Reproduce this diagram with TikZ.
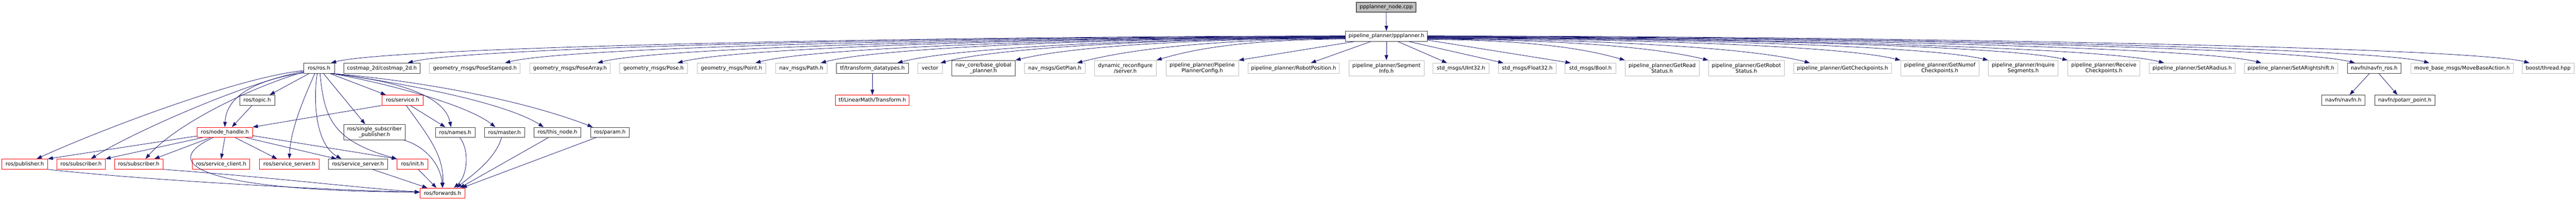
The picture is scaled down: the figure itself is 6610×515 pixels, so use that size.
\documentclass[tikz,border=0pt]{standalone}
\usepackage{fontspec}
\setmainfont{DejaVu Sans}
\usetikzlibrary{arrows.meta}
\definecolor{dep edge}{HTML}{191970}
\definecolor{grey box}{HTML}{BFBFBF}
\tikzset{filebox/.style={draw=black!75, line width=0.8pt, inner sep=0pt, minimum height=19.5pt,
        align=center, font=\fontsize{10}{11.25}\selectfont},
    blackbox/.style={filebox},
    greybox/.style={filebox, draw=grey box},
    redbox/.style={filebox, draw=red},
    rootbox/.style={filebox, draw=black, fill=grey box},
    tallbox/.style={minimum height=30pt},
    boxw/.style={minimum width=#1*0.75pt},
    dep/.style={draw=dep edge, line width=0.8pt, -{Triangle[length=10pt,width=7pt]}}}

\begin{document}
\begin{tikzpicture}[x=0.75pt, y=-0.75pt]
    \useasboundingbox (0,0) rectangle (6610,515);
    \node[rootbox, boxw=154] (nodecpp) at (3557,18.5) {ppplanner\_node.cpp};
    \node[blackbox, boxw=211] (planner) at (3557.5,93) {pipeline\_planner/ppplanner.h};

    \node[blackbox, boxw=79] (ros) at (818.5,175) {ros/ros.h};
    \node[blackbox, boxw=196] (costmap) at (980,175) {costmap\_2d/costmap\_2d.h};
    \node[greybox, boxw=233] (posestamped) at (1218.5,175) {geometry\_msgs/PoseStamped.h};
    \node[greybox, boxw=207] (posearray) at (1462.5,175) {geometry\_msgs/PoseArray.h};
    \node[greybox, boxw=174] (posemsg) at (1677,175) {geometry\_msgs/Pose.h};
    \node[greybox, boxw=176] (pointmsg) at (1877,175) {geometry\_msgs/Point.h};
    \node[greybox, boxw=132] (pathmsg) at (2056,175) {nav\_msgs/Path.h};
    \node[blackbox, boxw=185] (tfdata) at (2238.5,175) {tf/transform\_datatypes.h};
    \node[greybox, boxw=63] (vector) at (2386.5,175) {vector};
    \node[blackbox, tallbox, boxw=163] (baseplanner) at (2523.5,175) {nav\_core/base\_global\\\_planner.h};
    \node[greybox, boxw=155] (getplan) at (2706.5,175) {nav\_msgs/GetPlan.h};
    \node[greybox, tallbox, boxw=159] (dynserver) at (2887.5,175) {dynamic\_reconfigure\\/server.h};
    \node[greybox, tallbox, boxw=186] (config) at (3085,175) {pipeline\_planner/Pipeline\\PlannerConfig.h};
    \node[greybox, boxw=235] (robotpos) at (3319.5,175) {pipeline\_planner/RobotPosition.h};
    \node[greybox, tallbox, boxw=193] (seginfo) at (3557.5,175) {pipeline\_planner/Segment\\Info.h};
    \node[greybox, boxw=144] (uintmsg) at (3749,175) {std\_msgs/UInt32.h};
    \node[greybox, boxw=148] (floatmsg) at (3919,175) {std\_msgs/Float32.h};
    \node[greybox, boxw=130] (boolmsg) at (4081,175) {std\_msgs/Bool.h};
    \node[greybox, tallbox, boxw=190] (readstatus) at (4265,175) {pipeline\_planner/GetRead\\Status.h};
    \node[greybox, tallbox, boxw=194] (robotstatus) at (4481,175) {pipeline\_planner/GetRobot\\Status.h};
    \node[greybox, boxw=250] (getcp) at (4728,175) {pipeline\_planner/GetCheckpoints.h};
    \node[greybox, tallbox, boxw=201] (numcp) at (4977.5,175) {pipeline\_planner/GetNumof\\Checkpoints.h};
    \node[greybox, tallbox, boxw=179] (inquire) at (5191.5,175) {pipeline\_planner/Inquire\\Segments.h};
    \node[greybox, tallbox, boxw=185] (receive) at (5398.5,175) {pipeline\_planner/Receive\\Checkpoints.h};
    \node[greybox, boxw=220] (radius) at (5625,175) {pipeline\_planner/SetARadius.h};
    \node[greybox, boxw=239] (rightshift) at (5878.5,175) {pipeline\_planner/SetARightshift.h};
    \node[blackbox, boxw=138] (navfnros) at (6092,175) {navfn/navfn\_ros.h};
    \node[greybox, boxw=263] (movebase) at (6317.5,175) {move\_base\_msgs/MoveBaseAction.h};
    \node[greybox, boxw=133] (thread) at (6538.5,175) {boost/thread.hpp};

    \node[blackbox, boxw=90] (topic) at (660,257) {ros/topic.h};
    \node[redbox, boxw=106] (service) at (1033,257) {ros/service.h};
    \node[redbox, boxw=189] (lmtransform) at (2238.5,257) {tf/LinearMath/Transform.h};
    \node[blackbox, boxw=112] (navfn) at (6013,257) {navfn/navfn.h};
    \node[blackbox, boxw=155] (potarr) at (6170.5,257) {navfn/potarr\_point.h};

    \node[redbox, boxw=142] (nodehandle) at (577,339.5) {ros/node\_handle.h};
    \node[blackbox, tallbox, boxw=158] (singlesub) at (961,339) {ros/single\_subscriber\\\_publisher.h};
    \node[blackbox, boxw=102] (rosnames) at (1168,339.5) {ros/names.h};
    \node[blackbox, boxw=103] (master) at (1294.5,339.5) {ros/master.h};
    \node[blackbox, boxw=121] (thisnode) at (1430.5,339.5) {ros/this\_node.h};
    \node[blackbox, boxw=100] (rosparam) at (1565,339.5) {ros/param.h};

    \node[redbox, boxw=117] (publisher) at (63.5,421) {ros/publisher.h};
    \node[redbox, boxw=124] (subA) at (208,421) {ros/subscriber.h};
    \node[redbox, boxw=124] (subB) at (356,421) {ros/subscriber.h};
    \node[redbox, boxw=147] (client) at (567.5,421) {ros/service\_client.h};
    \node[redbox, boxw=153] (serverA) at (742.5,421) {ros/service\_server.h};
    \node[blackbox, boxw=153] (serverB) at (918.5,421) {ros/service\_server.h};
    \node[redbox, boxw=79] (rosinit) at (1058.5,421) {ros/init.h};

    \node[redbox, boxw=115] (forwards) at (1135.5,495.5) {ros/forwards.h};

    \draw[dep] (nodecpp.south) -- (planner.north);

    \draw[dep] ([yshift=0.75pt]planner.west) .. controls (2281,94) and (999,122) .. ([xshift=23pt]ros.north);
    \draw[dep] (planner.west) .. controls (2369,95) and (1196,122) .. ([xshift=49.5pt]costmap.north);
    \draw[dep] ([yshift=-0.75pt]planner.west) .. controls (2482,96) and (1446,122) .. ([xshift=58pt]posestamped.north);
    \draw[dep] ([yshift=-1.5pt]planner.west) .. controls (2588,97) and (1683,122) .. ([xshift=53pt]posearray.north);
    \draw[dep] ([yshift=-1.5pt]planner.west) .. controls (2681,97) and (1888,122) .. ([xshift=46pt]posemsg.north);
    \draw[dep] ([yshift=-2.25pt]planner.west) .. controls (2771,98) and (2088,122) .. ([xshift=46pt]pointmsg.north);
    \draw[dep] ([yshift=-2.25pt]planner.west) .. controls (2846,98) and (2256,122) .. ([xshift=37.5pt]pathmsg.north);
    \draw[dep] ([yshift=-3pt]planner.west) .. controls (2935,99) and (2453,122) .. ([xshift=48pt]tfdata.north);
    \draw[dep] ([yshift=-3pt]planner.west) .. controls (2984,99) and (2563,122) .. ([xshift=20pt]vector.north);
    \draw[dep] ([yshift=-3.75pt]planner.west) .. controls (3071,100) and (2755,118) .. (baseplanner.north east);
    \draw[dep] ([yshift=-4.5pt]planner.west) .. controls (3142,101) and (2914,122) .. ([xshift=43pt]getplan.north);
    \draw[dep] ([yshift=-5.25pt]planner.west) .. controls (3234,102) and (3088,118) .. (dynserver.north east);
    \draw[dep] ([xshift=18pt]planner.south west) -- (config.north east);
    \draw[dep] ([xshift=49.5pt]planner.south west) -- ([xshift=33pt]robotpos.north);
    \draw[dep] (planner.south) -- (seginfo.north);
    \draw[dep] ([xshift=22pt]planner.south) -- ([xshift=-27pt]uintmsg.north);
    \draw[dep] ([xshift=43pt]planner.south) -- ([xshift=-46pt]floatmsg.north);
    \draw[dep] ([yshift=-7.5pt]planner.east) -- ([xshift=-38pt]boolmsg.north);
    \draw[dep] ([yshift=-6pt]planner.east) .. controls (3891,103) and (4043,118) .. (readstatus.north west);
    \draw[dep] ([yshift=-5.25pt]planner.east) .. controls (3987,102) and (4234,118) .. (robotstatus.north west);
    \draw[dep] ([yshift=-4.5pt]planner.east) .. controls (4104,101) and (4494,122) .. ([xshift=-63pt]getcp.north);
    \draw[dep] ([yshift=-3.75pt]planner.east) .. controls (4209,100) and (4727,118) .. (numcp.north west);
    \draw[dep] ([yshift=-3pt]planner.east) .. controls (4311,99) and (4952,118) .. (inquire.north west);
    \draw[dep] ([yshift=-2.25pt]planner.east) .. controls (4402,98) and (5156,118) .. (receive.north west);
    \draw[dep] ([yshift=-2.25pt]planner.east) .. controls (4514,98) and (5403,122) .. ([xshift=-54pt]radius.north);
    \draw[dep] ([yshift=-1.5pt]planner.east) .. controls (4626,97) and (5652,122) .. ([xshift=-57pt]rightshift.north);
    \draw[dep] ([yshift=-0.75pt]planner.east) .. controls (4734,96) and (5893,122) .. ([xshift=-37pt]navfnros.north);
    \draw[dep] (planner.east) .. controls (4820,95) and (6083,122) .. ([xshift=-63pt]movebase.north);
    \draw[dep] ([yshift=0.75pt]planner.east) .. controls (4935,94) and (6340,122) .. ([xshift=-36pt]thread.north);

    \draw[dep] ([yshift=-4.5pt]ros.west) .. controls (600,200) and (230,345) .. ([xshift=23pt]publisher.north);
    \draw[dep] ([yshift=-6pt]ros.west) .. controls (620,215) and (330,345) .. ([xshift=19pt]subA.north);
    \draw[dep] ([yshift=-7.5pt]ros.west) .. controls (640,225) and (450,320) .. ([xshift=13pt]subB.north);
    \draw[dep] ([yshift=-9pt]ros.west) .. controls (650,205) and (580,250) .. (nodehandle.north);
    \draw[dep] ([xshift=-19pt]ros.south) -- ([xshift=24pt]topic.north);
    \draw[dep] ([xshift=-8pt]ros.south) .. controls (785,240) and (745,330) .. (serverA.north);
    \draw[dep] ([xshift=-3.4pt]ros.south) .. controls (803,260) and (810,370) .. ([xshift=-32pt]serverB.north);
    \draw[dep] ([xshift=2pt]ros.south) .. controls (832,300) and (850,360) .. (rosinit.north west);
    \draw[dep] ([xshift=8.6pt]ros.south) -- ([xshift=-18pt]singlesub.north);
    \draw[dep] ([xshift=21pt]ros.south) -- ([xshift=-32pt]service.north);
    \draw[dep] ([xshift=23pt]ros.south) .. controls (1000,205) and (1140,240) .. ([xshift=-8pt]rosnames.north);
    \draw[dep] ([xshift=24pt]ros.south) .. controls (1000,215) and (1200,270) .. ([xshift=-17.6pt]master.north);
    \draw[dep] ([xshift=25pt]ros.south) .. controls (1050,215) and (1300,265) .. ([xshift=-26.6pt]thisnode.north);
    \draw[dep] ([xshift=26pt]ros.south) .. controls (1100,210) and (1350,260) .. ([xshift=-33pt]rosparam.north);

    \draw[dep] ([xshift=-10pt]topic.south) -- ([xshift=13.5pt]nodehandle.north);
    \draw[dep] (service.south west) -- (nodehandle.north east);
    \draw[dep] ([xshift=15pt]service.south) -- ([xshift=-19pt]rosnames.north);
    \draw[dep] ([xshift=7pt]service.south) .. controls (1100,350) and (1140,400) .. (forwards.north);

    \draw[dep] ([yshift=-7pt]nodehandle.west) -- (publisher.north east);
    \draw[dep] ([xshift=10.5pt]nodehandle.south west) -- (subA.north east);
    \draw[dep] ([xshift=26pt]nodehandle.south west) -- ([xshift=30pt]subB.north);
    \draw[dep] (nodehandle.south) -- (client.north);
    \draw[dep] ([xshift=-22.5pt]nodehandle.south) .. controls (400,420) and (520,490) .. ([yshift=2pt]forwards.west);
    \draw[dep] ([xshift=20pt]nodehandle.south) -- ([xshift=-23.6pt]serverA.north);
    \draw[dep] ([xshift=40.5pt]nodehandle.south) -- ([xshift=-41pt]serverB.north);
    \draw[dep] ([yshift=-6.4pt]nodehandle.east) -- (rosinit.north west);

    \draw[dep] ([xshift=-3pt]singlesub.south east) .. controls (1090,375) and (1130,420) .. (forwards.north);
    \draw[dep] ([xshift=28pt]serverB.south) -- ([xshift=-29pt]forwards.north);
    \draw[dep] ([xshift=11pt]rosinit.south) -- ([xshift=-11.6pt]forwards.north);
    \draw[dep] ([xshift=9pt]rosnames.south) .. controls (1205,385) and (1200,450) .. ([xshift=22pt]forwards.north);
    \draw[dep] ([xshift=-5.6pt]master.south) .. controls (1270,410) and (1210,450) .. ([xshift=27pt]forwards.north);
    \draw[dep] ([xshift=-17.6pt]thisnode.south) -- ([xshift=33pt]forwards.north);
    \draw[dep] ([xshift=-27pt]rosparam.south) -- ([xshift=37pt]forwards.north);
    \draw[dep] (publisher.south east) .. controls (400,465) and (900,490) .. ([yshift=2pt]forwards.west);
    \draw[dep] (subB.south east) .. controls (700,455) and (900,480) .. ([yshift=2pt]forwards.west);

    \draw[dep] (tfdata.south) -- (lmtransform.north);
    \draw[dep] ([xshift=-9pt]navfnros.south) -- ([xshift=12pt]navfn.north);
    \draw[dep] ([xshift=9pt]navfnros.south) -- ([xshift=-14pt]potarr.north);
\end{tikzpicture}
\end{document}
